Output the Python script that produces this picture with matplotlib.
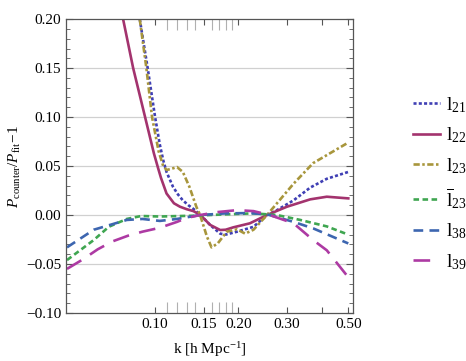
import numpy as np
import matplotlib
matplotlib.use('Agg')
import matplotlib.pyplot as plt
from matplotlib.ticker import FixedLocator, FixedFormatter, NullFormatter

plt.rcParams.update({
    'font.family': 'Liberation Serif',
    'mathtext.fontset': 'custom',
    'mathtext.rm': 'Liberation Serif',
    'mathtext.it': 'Liberation Serif:italic',
    'lines.scale_dashes': False,
})

# data (k in h/Mpc, ratio - 1)
k_l21 = [0.088, 0.094, 0.100, 0.104, 0.107, 0.110, 0.116, 0.121, 0.126, 0.132, 0.138,
         0.146, 0.158, 0.172, 0.180, 0.198, 0.227, 0.254, 0.276, 0.317, 0.364, 0.418,
         0.500]
v_l21 = [0.20, 0.15, 0.10, 0.072, 0.056, 0.044, 0.029, 0.021, 0.015, 0.010, 0.006,
         0.0, -0.010, -0.019, -0.020, -0.017, -0.012, 0.0, 0.005, 0.015, 0.028, 0.037,
         0.044]

k_l22 = [0.0766, 0.0833, 0.092, 0.099, 0.1025, 0.105, 0.110, 0.117, 0.123, 0.130,
         0.1376, 0.146, 0.158, 0.172, 0.180, 0.1916, 0.220, 0.254, 0.300, 0.364,
         0.418, 0.500]
v_l22 = [0.20, 0.15, 0.10, 0.063, 0.048, 0.038, 0.022, 0.012, 0.0085, 0.006,
         0.004, 0.0, -0.010, -0.0153, -0.015, -0.0126, -0.0085, 0.0, 0.0085, 0.016,
         0.0187, 0.017]

k_l23 = [0.088, 0.093, 0.0975, 0.103, 0.107, 0.110, 0.114, 0.120, 0.126, 0.133,
         0.141, 0.1455, 0.154, 0.160, 0.1685, 0.1817, 0.198, 0.2117, 0.227, 0.254,
         0.317, 0.373, 0.500]
v_l23 = [0.20, 0.15, 0.10, 0.065, 0.050, 0.046, 0.047, 0.049, 0.044, 0.029,
         0.0085, 0.0, -0.022, -0.033, -0.029, -0.017, -0.0146, -0.019, -0.015, 0.0,
         0.032, 0.053, 0.074]

k_l23b = [0.048, 0.060, 0.068, 0.079, 0.089, 0.104, 0.138, 0.180, 0.227, 0.276,
          0.335, 0.418, 0.500]
v_l23b = [-0.046, -0.0255, -0.012, -0.004, -0.001, -0.0015, -0.0007, 0.0007, 0.0017, 0.0,
          -0.005, -0.0116, -0.020]

k_l38 = [0.048, 0.060, 0.079, 0.090, 0.104, 0.120, 0.1455, 0.180, 0.220, 0.254,
         0.317, 0.373, 0.500]
v_l38 = [-0.033, -0.015, -0.005, -0.004, -0.006, -0.004, 0.0, 0.0017, 0.002, 0.0007,
         -0.007, -0.0136, -0.029]

k_l39 = [0.048, 0.055, 0.062, 0.070, 0.080, 0.090, 0.104, 0.120, 0.130, 0.1455,
         0.168, 0.198, 0.227, 0.260, 0.317, 0.373, 0.418, 0.495]
v_l39 = [-0.055, -0.045, -0.035, -0.027, -0.021, -0.017, -0.013, -0.007, -0.003, 0.0,
         0.003, 0.005, 0.004, 0.0, -0.0085, -0.0255, -0.036, -0.062]

labels = [r'$\mathrm{l}_{21}$', r'$\mathrm{l}_{22}$', r'$\mathrm{l}_{23}$',
          r'$\overline{\mathrm{l}}_{23}$', r'$\mathrm{l}_{38}$', r'$\mathrm{l}_{39}$']

x_major = [0.10, 0.15, 0.20, 0.30, 0.40, 0.50]
x_labels = ['0.10', '0.15', '0.20', '0.30', '', '0.50']
x_rug = [0.11, 0.12, 0.13, 0.14, 0.16, 0.17, 0.18, 0.19]

fig = plt.figure(figsize=(4.66, 3.61), dpi=100)
ax = fig.add_axes([0.1416, 0.133, 0.6159, 0.814])

styles = [
    dict(color='#3f3fb4', ls=(0, (2.2, 1.6))),
    dict(color='#a3336e', ls='-'),
    dict(color='#a8963c', ls=(0, (4.5, 1.8, 1.8, 1.8))),
    dict(color='#3fa651', ls=(0, (4.0, 2.5))),
    dict(color='#3d66b0', ls=(0, (7.0, 4.5))),
    dict(color='#ad3aa3', ls=(0, (12.0, 7.5))),
]
series = [(k_l21, v_l21), (k_l22, v_l22), (k_l23, v_l23),
          (k_l23b, v_l23b), (k_l38, v_l38), (k_l39, v_l39)]

for (kk, vv), st, lab in zip(series, styles, labels):
    ax.plot(kk, vv, lw=1.9, label=lab, **st)

ax.set_xscale('log')
ax.set_xlim(0.0476, 0.52)
ax.set_ylim(-0.10, 0.20)

ax.xaxis.set_major_locator(FixedLocator(x_major))
ax.xaxis.set_major_formatter(FixedFormatter(x_labels))
ax.xaxis.set_minor_locator(FixedLocator(x_rug))
ax.xaxis.set_minor_formatter(NullFormatter())
ax.set_yticks(np.arange(-0.10, 0.201, 0.05))
ax.set_yticklabels(['\u22120.10', '\u22120.05', '0.00', '0.05', '0.10', '0.15', '0.20'])
ax.set_yticks(np.arange(-0.10, 0.201, 0.01), minor=True)

ax.tick_params(axis='both', which='both', direction='in', top=True, right=True,
               labelsize=11, color='#555555')
ax.tick_params(axis='y', which='major', length=5, width=0.8)
ax.tick_params(axis='y', which='minor', length=3, width=0.6)
ax.tick_params(axis='x', which='major', length=4, width=0.8)
ax.tick_params(axis='x', which='minor', length=8, width=0.8, color='#b0b0b0')
for s in ax.spines.values():
    s.set_color('#555555')
    s.set_linewidth(0.9)

for yv in [-0.05, 0.0, 0.05, 0.10, 0.15]:
    ax.axhline(yv, color='#d0d0d0', lw=0.9, zorder=0)

ax.set_xlabel(r'k [h Mpc$^{-1}$]', fontsize=11, labelpad=7)
ax.set_ylabel(r'$P_{\mathrm{counter}}/P_{\mathrm{fit}}\!-\!1$', fontsize=11, labelpad=2)

fig.legend(loc='upper left', bbox_to_anchor=(0.848, 0.785), frameon=False,
           fontsize=14, handlelength=1.4, handletextpad=0.3, labelspacing=0.55)

fig.savefig('out.png', dpi=100)
